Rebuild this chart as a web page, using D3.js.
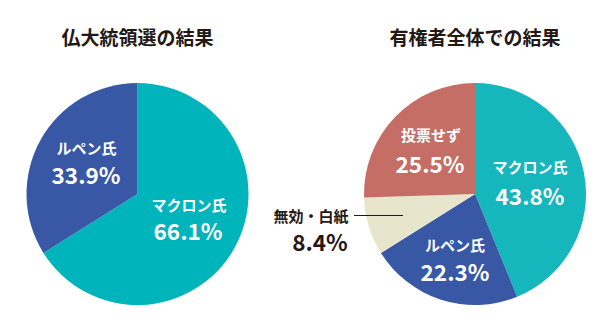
<!DOCTYPE html>
<html><head><meta charset="utf-8">
<script src="https://cdn.jsdelivr.net/npm/d3@7"></script>
<style>
body{margin:0;background:#fff;}
text{font-family:"Noto Sans CJK JP","Noto Sans",sans-serif;font-weight:700;}
</style></head>
<body>
<svg id="c" width="610" height="330"></svg>
<script>
const titles = ["仏大統領選の結果", "有権者全体での結果"];
const leftCategories = ["マクロン氏", "ルペン氏"];
const leftValues = [66.1, 33.9];
const rightCategories = ["マクロン氏", "ルペン氏", "無効・白紙", "投票せず"];
const rightValues = [43.8, 22.3, 8.4, 25.5];

const leftColors = ["#00b4bc", "#3858a5"];
const rightColors = ["#16b6bd", "#3858a5", "#e8e5cd", "#c46e66"];

const svg = d3.select("#c");
const R = 111;

function drawPie(cx, cy, cats, vals, colors, labelPos, title) {
  const g = svg.append("g").attr("transform", `translate(${cx},${cy})`);
  const pie = d3.pie().sort(null).value(d => d)(vals);
  const arc = d3.arc().innerRadius(0).outerRadius(R);
  g.selectAll("path").data(pie).join("path")
    .attr("d", arc).attr("fill", (d, i) => colors[i]);
  svg.append("text").attr("x", cx).attr("y", 45).attr("text-anchor", "middle")
    .attr("font-size", 19).attr("fill", "#231815").text(title);
  cats.forEach((c, i) => {
    const p = labelPos[i];
    if (!p) return;
    const col = p.dark ? "#231815" : "#fff";
    g.append("text").attr("x", p.x).attr("y", p.y).attr("text-anchor", "middle")
      .attr("font-size", 15).attr("fill", col).text(c);
    g.append("text").attr("x", p.px).attr("y", p.py).attr("text-anchor", "middle")
      .attr("font-size", 22.5).attr("fill", col).text(vals[i].toFixed(1) + "%");
  });
  return g;
}

drawPie(137.5, 194, leftCategories, leftValues, leftColors,
  [{x: 51.5, y: 17, px: 50.5, py: 46}, {x: -51, y: -40, px: -51.5, py: -10}], titles[0]);
const g2 = drawPie(475, 194, rightCategories, rightValues, rightColors,
  [{x: 55, y: -21, px: 55, py: 11},
   {x: -20, y: 57, px: -20, py: 87},
   {x: -164, y: 28, px: -155, py: 57, dark: true},
   {x: -44, y: -53, px: -45, py: -21}], titles[1]);
g2.append("line").attr("x1", -121).attr("x2", -72).attr("y1", 21.5).attr("y2", 21.5)
  .attr("stroke", "#231815").attr("stroke-width", 1);
</script>
</body></html>
